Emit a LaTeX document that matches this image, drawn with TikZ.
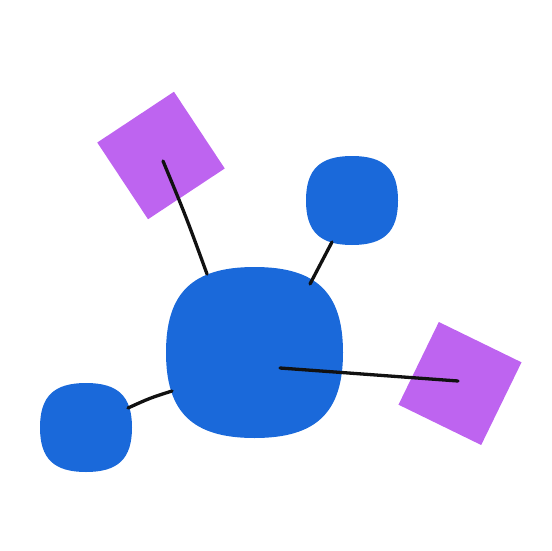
\documentclass[tikz,border=0pt]{standalone}
\usetikzlibrary{calc}
\definecolor{blobblue}{HTML}{1A69DA}
\definecolor{sqpurple}{HTML}{BE64F0}
\definecolor{inkline}{HTML}{111111}
\newcommand\squirclefill[3]{%
  \fill[blobblue,shift={(#1.center)}]
    (#2,0) .. controls (#2,{0.7*#3}) and ({0.7*#2},#3) .. (0,#3)
    .. controls ({-0.7*#2},#3) and (-#2,{0.7*#3}) .. (-#2,0)
    .. controls (-#2,{-0.7*#3}) and ({-0.7*#2},-#3) .. (0,-#3)
    .. controls ({0.7*#2},-#3) and (#2,{-0.7*#3}) .. (#2,0) -- cycle;}
\begin{document}
\begin{tikzpicture}[x=1pt,y=-1pt,
  blob/.style={draw=none,inner sep=0pt},
  bigblob/.style={blob,minimum width=177pt,minimum height=171pt},
  smallblob/.style={blob,minimum width=92pt,minimum height=89pt},
  sq/.style={fill=sqpurple,draw=none,inner sep=0pt,minimum size=92pt},
  link/.style={draw=inkline,line width=3.3pt,line cap=round}]
\useasboundingbox (0,0) rectangle (551,551);
\node[bigblob] (big) at (254.5,352.5) {};
\node[smallblob] (tr) at (352,200.5) {};
\node[smallblob] (bl) at (86,427.5) {};
\squirclefill{big}{88.5}{85.5}
\squirclefill{tr}{46}{44.5}
\squirclefill{bl}{46}{44.5}
\node[sq,rotate=33.5] (sqa) at (161,155.5) {};
\node[sq,rotate=-26] (sqb) at (460,383.5) {};
\coordinate (a1) at ($(sqa.center)+(2,5.5)$);
\coordinate (a2) at ($(big.center)+(-47.5,-78.5)$);
\coordinate (b1) at ($(big.center)+(55.5,-68.5)$);
\coordinate (b2) at ($(tr.center)+(-20,41.5)$);
\coordinate (c1) at ($(bl.center)+(42,-19.5)$);
\coordinate (c2) at ($(big.center)+(-82.5,38.5)$);
\coordinate (d1) at ($(big.center)+(25.5,15.5)$);
\coordinate (d2) at ($(sqb.center)+(-2,-2.5)$);
\draw[link] (a1) .. controls ($(a1)!0.5!(a2)+(1,-1)$) .. (a2);
\draw[link] (b1) -- (b2);
\draw[link] (c1) .. controls ($(c1)!0.5!(c2)+(0,-1.5)$) .. (c2);
\draw[link] (d1) -- (d2);
\end{tikzpicture}
\end{document}
